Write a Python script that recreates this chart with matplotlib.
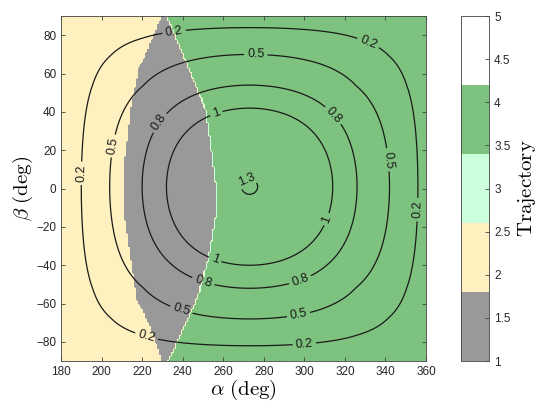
import numpy as np
import matplotlib
matplotlib.use('Agg')
import matplotlib.pyplot as plt
from matplotlib.colors import ListedColormap, Normalize

plt.rcParams['mathtext.fontset'] = 'cm'
plt.rcParams['font.family'] = ['Liberation Sans', 'DejaVu Sans']

# trajectory classes (colorbar 1..5)
traj_colors = ['#999999', '#fff0c0', '#ccffdb', '#7dc27e', '#ffffff']
cbar_ticks = [1, 1.5, 2, 2.5, 3, 3.5, 4, 4.5, 5]

# gray region (trajectory 1) edges
edge_beta = [-90, -74, -58, -37, -16, 0, 16, 42, 63, 90]
gray_left = [230, 225, 218, 215, 212, 211.5, 212, 215, 219, 230]
gray_right = [233, 240, 247, 252.5, 256, 256.5, 254.5, 251, 243, 232]

# contour field: value vs. distance from the peak, read along the axes
peak_alpha, peak_beta = 273, 1
prof_dist = np.array([0, 4, 41, 53, 69, 83, 100])
prof_val = np.array([1.303, 1.3, 1.0, 0.8, 0.5, 0.2, 0.0])
levels = [0.2, 0.5, 0.8, 1, 1.3]
label_pos = [(236, 80), (331, 75), (356, -11), (300, -81), (222, -77.5), (191, 8),
             (276, 68), (341, 15), (297, -65), (240, -61), (207, 22),
             (229, 34), (313, 37), (298, -48), (250, -49),
             (257, 38), (311, -16), (256, -37), (272, 3)]

alpha = np.arange(180, 361, 1.0)
beta = np.arange(-90, 91, 1.0)
A, B = np.meshgrid(alpha, beta)

left = np.interp(B, edge_beta, gray_left)
right = np.interp(B, edge_beta, gray_right)
traj = np.where(A < left, 2, np.where(A < right, 1, 4)).astype(float)

def prof(d):
    return np.interp(d ** 2, prof_dist ** 2, prof_val)

Z = prof(np.abs(A - peak_alpha)) * prof(np.abs(B - peak_beta)) / prof_val[0]

fig = plt.figure(figsize=(5.37, 4.03), dpi=100)
ax = fig.add_axes([0.1136, 0.104, 0.6797, 0.856])
cax = fig.add_axes([0.858, 0.104, 0.053, 0.856])

cmap = ListedColormap(traj_colors)
norm = Normalize(1, 5)
im = ax.imshow(traj, origin='lower', extent=[179.5, 360.5, -90.5, 90.5],
               aspect='auto', cmap=cmap, norm=norm,
               interpolation='bilinear', interpolation_stage='data')

cs = ax.contour(A, B, Z, levels=levels, colors='#1a1a1a', linewidths=0.9)
ax.clabel(cs, fmt='%g', fontsize=9, inline=True, inline_spacing=3,
          manual=label_pos)

ax.set_xlim(180, 360)
ax.set_ylim(-90, 90)
ax.set_xticks(np.arange(180, 361, 20))
ax.set_yticks(np.arange(-80, 81, 20))
ax.tick_params(direction='in', top=True, right=True, length=3, width=0.6,
               color='#404040', labelsize=8.5, labelcolor='#262626')
for s in ax.spines.values():
    s.set_color('#404040')
    s.set_linewidth(0.6)
ax.set_xlabel(r'$\alpha\ \mathrm{(deg)}$', fontsize=15, labelpad=0)
ax.set_ylabel(r'$\beta\ \mathrm{(deg)}$', fontsize=15, labelpad=1)

cb = fig.colorbar(im, cax=cax, ticks=cbar_ticks)
cb.ax.set_yticklabels(['%g' % t for t in cbar_ticks])
cb.ax.tick_params(direction='in', length=3, width=0.6, color='#404040',
                  labelsize=8.5, labelcolor='#262626')
cb.outline.set_edgecolor('#404040')
cb.outline.set_linewidth(0.6)
cb.set_label(r'$\mathrm{Trajectory}$', fontsize=15, labelpad=4)

fig.savefig('out.png', dpi=100)
